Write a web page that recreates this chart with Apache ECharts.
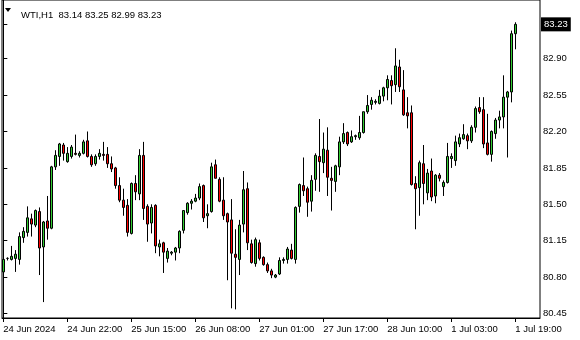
<!DOCTYPE html>
<html><head><meta charset="utf-8">
<script src="https://cdn.jsdelivr.net/npm/echarts@6/dist/echarts.min.js"></script>
<style>html,body{margin:0;padding:0;background:#fff}#c{width:580px;height:340px}</style>
</head><body><div id="c"></div>
<script>
const symbolName = 'WTI,H1';
const tickLabels = ['24 Jun 2024','24 Jun 22:00','25 Jun 15:00','26 Jun 08:00','27 Jun 01:00','27 Jun 17:00','28 Jun 10:00','1 Jul 03:00','1 Jul 19:00'];
const tickEvery = 16;
const priceTicks = [80.45, 80.80, 81.15, 81.50, 81.85, 82.20, 82.55, 82.90];

const opens = [80.85,80.98,80.97,80.98,80.97,81.18,81.23,81.36,81.30,81.43,81.09,81.34,81.27,81.86,81.96,82.07,81.91,81.96,81.99,81.97,
81.99,82.11,81.96,81.89,81.96,81.98,81.98,81.89,81.85,81.68,81.54,81.49,81.22,81.70,81.60,81.97,81.48,81.32,81.49,81.09,
81.13,80.98,81.03,81.04,81.08,81.25,81.42,81.51,81.53,81.56,81.68,81.39,81.43,81.88,81.74,81.54,81.41,81.35,81.02,80.97,
81.31,81.65,81.12,80.93,81.13,80.99,80.92,80.86,80.80,80.83,80.96,80.97,81.06,80.97,81.48,81.68,81.65,81.53,81.74,81.96,
81.90,82.02,81.75,81.72,81.86,82.10,82.19,82.10,82.15,82.14,82.19,82.39,82.46,82.48,82.47,82.54,82.62,82.69,82.65,82.82,
82.60,82.38,82.38,81.70,81.66,81.89,81.61,81.82,81.58,81.78,81.67,81.71,81.94,81.92,82.08,82.13,82.16,82.11,82.24,82.43,
82.41,82.09,81.98,82.18,82.31,82.34,82.53,82.58,83.14];
const closes = [80.97,80.98,81.00,81.02,81.19,81.24,81.37,81.31,81.44,81.08,81.33,81.27,81.86,81.97,82.08,81.99,81.99,82.05,81.98,81.99,
82.10,81.96,81.88,81.96,81.99,81.97,81.89,81.84,81.68,81.54,81.47,81.23,81.70,81.62,81.97,81.46,81.31,81.47,81.10,81.12,
81.04,81.05,81.04,81.08,81.24,81.44,81.51,81.53,81.56,81.67,81.37,81.41,81.86,81.75,81.53,81.39,81.33,81.03,80.99,81.30,
81.64,81.13,80.94,81.16,80.98,80.92,80.86,80.82,80.82,80.96,80.97,81.07,80.98,81.47,81.69,81.63,81.52,81.73,81.97,81.91,
82.03,81.76,81.73,81.87,82.10,82.18,82.08,82.15,82.16,82.19,82.39,82.45,82.50,82.49,82.54,82.62,82.70,82.64,82.83,82.63,
82.36,82.35,81.69,81.65,81.90,81.70,81.80,81.57,81.78,81.75,81.71,81.96,81.96,82.10,82.14,82.17,82.11,82.24,82.42,82.39,
82.08,81.98,82.20,82.31,82.34,82.53,82.58,83.14,83.23];
const lows = [80.84,80.96,80.96,80.85,80.92,81.13,81.19,81.19,81.28,80.82,80.56,81.16,81.26,81.83,81.87,81.92,81.90,81.94,81.97,81.95,
81.98,81.95,81.86,81.87,81.93,81.92,81.85,81.81,81.65,81.52,81.39,81.19,81.21,81.54,81.54,81.35,81.14,81.22,81.03,81.00,
80.84,80.94,81.01,80.96,81.03,81.22,81.40,81.45,81.52,81.54,81.33,81.27,81.42,81.75,81.52,81.35,80.77,80.50,80.49,80.82,
81.23,81.06,80.93,80.90,80.96,80.91,80.84,80.79,80.79,80.82,80.93,80.93,80.97,80.93,81.42,81.58,81.38,81.43,81.63,81.62,
81.80,81.58,81.44,81.62,81.78,82.08,82.06,82.09,82.12,82.12,82.18,82.37,82.41,82.46,82.46,82.49,82.50,82.46,82.58,82.58,
82.35,82.23,81.68,81.26,81.39,81.50,81.54,81.53,81.51,81.72,81.58,81.70,81.85,81.87,82.05,82.12,82.03,82.09,82.19,82.37,
82.04,81.97,81.91,82.13,82.23,82.23,81.95,82.48,82.99];
const highs = [80.98,80.99,81.10,81.06,81.23,81.28,81.48,81.41,81.45,81.47,81.34,81.58,81.87,82.02,82.09,82.09,82.05,82.07,82.17,82.01,
82.12,82.20,81.98,81.98,82.03,82.10,82.05,81.96,81.86,81.76,81.65,81.55,81.71,81.78,82.03,82.10,81.50,81.50,81.50,81.16,
81.14,81.08,81.05,81.09,81.25,81.44,81.52,81.55,81.60,81.70,81.69,81.50,81.90,81.93,81.76,81.76,81.42,81.55,81.26,81.35,
81.82,81.71,81.16,81.18,81.16,81.00,80.94,80.88,80.83,80.99,80.99,81.09,81.12,81.48,81.70,81.95,81.67,81.78,81.99,82.32,
82.19,82.24,81.86,81.88,82.15,82.28,82.20,82.21,82.17,82.35,82.39,82.55,82.53,82.51,82.60,82.63,82.74,82.74,83.00,82.89,
82.79,82.53,82.45,81.77,81.92,82.07,81.84,81.94,81.79,81.80,81.73,82.09,81.99,82.16,82.18,82.27,82.18,82.26,82.44,82.53,
82.53,82.37,82.21,82.33,82.40,82.74,82.59,83.17,83.25];

const n = opens.length;
const candles = opens.map((o, i) => [i, o, closes[i], lows[i], highs[i]]);
const lastIdx = n - 1;
const headerText = symbolName + '  ' + [opens[lastIdx], highs[lastIdx], lows[lastIdx], closes[lastIdx]].map(v => v.toFixed(2)).join(' ');
const xTickValues = tickLabels.map((_, k) => k * tickEvery);

const FONT = 'Liberation Sans';
const chart = echarts.init(document.getElementById('c'), null, {renderer: 'canvas'});
chart.setOption({
  animation: false,
  backgroundColor: '#fff',
  title: {
    text: headerText, left: 16, top: 5,
    textStyle: {fontFamily: FONT, fontSize: 9.5, fontWeight: 'normal', color: '#000'}
  },
  graphic: [{
    type: 'polygon', shape: {points: [[5, 8], [11, 8], [8, 12]]}, style: {fill: '#000'}
  }],
  grid: {left: 2, right: 40, top: -3, bottom: 22, show: true, borderColor: '#000', borderWidth: 1, backgroundColor: '#fff'},
  xAxis: {
    type: 'value', min: -0.33, max: 134.17,
    axisLine: {show: true, onZero: false, lineStyle: {color: '#000', width: 1}},
    axisTick: {show: true, customValues: xTickValues, length: 4, lineStyle: {color: '#000'}},
    axisLabel: {
      customValues: xTickValues, align: 'left', margin: 6,
      fontFamily: FONT, fontSize: 9.5, color: '#000',
      formatter: v => tickLabels[Math.round(v / tickEvery)] || ''
    },
    splitLine: {show: false}
  },
  yAxis: {
    type: 'value', position: 'right', scale: true, min: 80.407, max: 83.464,
    axisLine: {show: true, lineStyle: {color: '#000', width: 1}},
    axisTick: {show: true, customValues: priceTicks.concat([closes[lastIdx]]), length: 4, lineStyle: {color: '#000'}},
    axisLabel: {
      customValues: priceTicks, margin: 3,
      fontFamily: FONT, fontSize: 9.5, color: '#000',
      formatter: v => v.toFixed(2)
    },
    splitLine: {show: false}
  },
  series: [{
    type: 'candlestick',
    data: candles,
    encode: {x: 0, y: [1, 2, 3, 4]},
    barWidth: 3,
    clip: false,
    itemStyle: {color: '#32cd32', color0: '#ff0000', borderColor: '#000', borderColor0: '#000', borderColorDoji: '#000', borderWidth: 1},
    markLine: {
      silent: true, symbol: 'none',
      lineStyle: {color: 'rgba(0,0,0,0)', width: 1, type: 'solid'},
      label: {
        show: true, position: 'end', distance: 1, formatter: p => p.value.toFixed(2),
        backgroundColor: '#000', color: '#fff', padding: [2, 3, 2, 3],
        fontFamily: FONT, fontSize: 9.5
      },
      data: [{yAxis: closes[lastIdx]}]
    }
  }]
});
</script></body></html>
